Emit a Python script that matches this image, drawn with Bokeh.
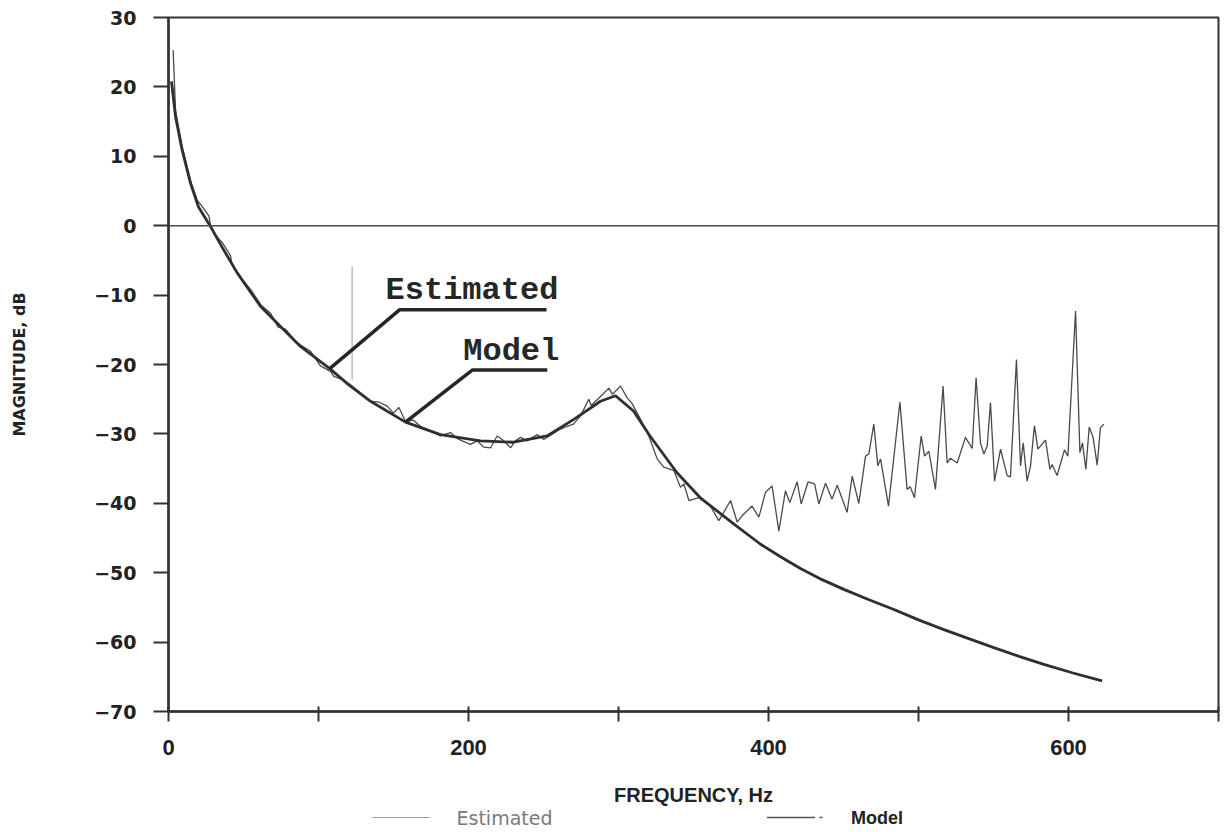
from bokeh.plotting import figure
from bokeh.models import Range1d, FixedTicker, Span
from bokeh.layouts import column
from bokeh.core.properties import value
from bokeh.embed import file_html
from bokeh.resources import INLINE

# ---------------- data ----------------
model_f = [2, 4.7, 9, 14.7, 20, 28, 36, 45.8, 61.3, 75, 88, 107.5, 120, 134.7, 158,
           181.3, 208, 230, 252.4, 270.2, 288, 298, 310, 321, 339, 355, 377, 394.7,
           408, 421.3, 435.7, 450.2, 467, 483.6, 500, 516.9, 533.5, 550.2, 567,
           583.6, 603, 622.4]
model_db = [20.8, 15.7, 11.0, 6.1, 2.7, -0.1, -3.2, -6.8, -11.6, -14.6, -17.4, -20.6,
            -22.9, -25.3, -28.3, -30.1, -31.0, -31.2, -30.3, -27.9, -25.3, -24.5,
            -26.7, -30.3, -35.6, -39.3, -43.0, -45.9, -47.7, -49.4, -51.0, -52.4,
            -53.9, -55.3, -56.8, -58.2, -59.5, -60.8, -62.05, -63.2, -64.45, -65.6]

est_f = [3.1, 4.7, 9, 14.7, 19.1, 23, 26.9, 28, 30.2, 35.8, 41.3, 42.4, 48, 55, 62,
         68, 73, 78, 84, 88, 94.7, 96.9, 101.3, 108, 110.2, 116, 121.3, 128, 134.7,
         140, 145.8, 150, 153.6, 158, 163, 168, 175, 181.3, 188, 192, 195.8, 201.3,
         205.8, 210, 214.7, 219.1, 223.6, 228, 231.3, 234.7, 239.1, 245.8, 250.2,
         256, 261.3, 265.8, 270, 274.7, 280.2, 281.8, 288, 293.6, 296, 301.3, 305.8,
         309, 314.7, 320.2, 325.8, 330.2, 337, 341.3, 343.6, 346.9, 353.6, 361.3,
         366.9, 370.2, 374.7, 379.1, 382.4, 389, 393.6, 398, 402.4, 406.9, 411.3,
         414.2, 419.1, 421.8, 426.4, 430.7, 433.6, 438, 442.4, 445.8, 452.4, 455.8,
         460.2, 464.7, 466.9, 470.2, 472.9, 474.7, 480, 487.6, 492.4, 494.5, 497.3,
         501.8, 504, 506.9, 511.3, 516.4, 519.1, 521.3, 525.8, 531.3, 535.8, 538.4,
         541.3, 543.6, 545.8, 548, 550.7, 554.7, 559.1, 561.3, 565.3, 568, 569.8,
         572.4, 574.7, 577.3, 579.6, 584.7, 587.6, 589.1, 592.4, 597.3, 599.6, 604.7,
         607.6, 609.3, 611.6, 613.8, 616.4, 619.1, 621.3, 623.6]
est_db = [25.3, 16.6, 11.5, 6.5, 3.7, 2.6, 1.4, 0.1, -1.1, -2.4, -4.3, -5.6, -7.4,
          -9.3, -11.5, -12.6, -14.6, -14.9, -16.5, -17.2, -18.1, -18.8, -20.2, -21.0,
          -21.7, -22.2, -22.9, -24.1, -25.3, -25.4, -26.0, -27.0, -26.2, -28.2, -28.0,
          -28.9, -29.6, -30.3, -29.8, -30.6, -31.0, -31.5, -31.0, -31.9, -32.0, -30.3,
          -31.0, -32.0, -31.0, -30.5, -31.0, -30.1, -30.8, -30.0, -29.3, -28.9, -28.6,
          -27.4, -25.0, -25.9, -24.6, -23.4, -24.3, -23.1, -24.8, -25.6, -27.9, -30.3,
          -33.6, -34.8, -35.3, -37.7, -37.2, -39.6, -39.2, -40.4, -42.5, -41.3, -39.6,
          -42.7, -41.8, -40.4, -42.0, -38.4, -37.5, -44.0, -38.2, -39.9, -36.9, -40.1,
          -36.9, -37.2, -40.1, -37.1, -39.4, -37.4, -41.3, -36.1, -40.0, -33.2, -32.9,
          -28.6, -34.6, -33.6, -40.4, -25.4, -38.0, -37.6, -39.2, -30.3, -33.2, -32.5,
          -38.0, -23.1, -34.2, -33.5, -34.2, -30.5, -32.1, -21.9, -31.3, -32.9, -31.7,
          -25.5, -36.8, -32.2, -36.0, -36.2, -19.3, -34.6, -31.3, -36.8, -34.6, -28.8,
          -32.2, -30.9, -35.1, -34.4, -36.0, -32.3, -33.2, -12.3, -32.7, -31.3, -35.1,
          -29.0, -30.5, -34.5, -29.1, -28.6]

x_ticks = [0, 100, 200, 300, 400, 500, 600, 700]
x_tick_labels = ["0", "", "200", "", "400", "", "600", ""]
y_ticks = [-70, -60, -50, -40, -30, -20, -10, 0, 10, 20, 30]
y_tick_labels = ["\u221270", "\u221260", "\u221250", "\u221240", "\u221230", "\u221220",
                 "\u221210", "0", "10", "20", "30"]

# callout annotations
est_leader_x = [107.5, 154.2, 252.0]
est_leader_y = [-20.6, -12.1, -12.1]
model_leader_x = [158.0, 202.5, 252.5]
model_leader_y = [-28.3, -20.8, -20.8]
callout_text = ["Estimated", "Model"]
callout_x = [144.7, 196.5]
callout_y = [-9.4, -18.1]
# stray vertical pen mark in the original
mark_x = [122.4, 122.4]
mark_y = [-5.9, -22.2]

LINE = "#2f2f2f"

p = figure(width=1226, height=808, x_range=Range1d(0, 700), y_range=Range1d(-70, 30),
           output_backend="svg", toolbar_location=None,
           min_border_left=168, min_border_right=8, min_border_top=17, min_border_bottom=95)
p.grid.visible = False
p.background_fill_color = "white"
p.border_fill_color = "white"
p.outline_line_color = "#333333"
p.outline_line_width = 2

# axes
p.xaxis.ticker = FixedTicker(ticks=x_ticks)
p.xaxis.major_label_overrides = {t: l for t, l in zip(x_ticks, x_tick_labels)}
p.xaxis.minor_tick_line_color = None
p.xaxis.major_tick_in = 5
p.xaxis.major_tick_out = 10
p.xaxis.major_label_standoff = 18
p.xaxis.major_label_text_font = "Liberation Sans"
p.xaxis.major_label_text_font_style = "bold"
p.xaxis.major_label_text_font_size = "22px"
p.xaxis.major_label_text_color = "#222222"
p.xaxis.axis_label = "FREQUENCY, Hz"
p.xaxis.axis_label_text_font = "Liberation Sans"
p.xaxis.axis_label_text_font_style = "bold"
p.xaxis.axis_label_text_font_size = "20px"
p.xaxis.axis_label_text_color = "#222222"
p.xaxis.axis_label_standoff = 26

p.yaxis.ticker = FixedTicker(ticks=y_ticks)
p.yaxis.major_label_overrides = {t: l for t, l in zip(y_ticks, y_tick_labels)}
p.yaxis.minor_tick_line_color = None
p.yaxis.major_tick_in = 0
p.yaxis.major_tick_out = 15
p.yaxis.major_label_standoff = 17
p.yaxis.major_label_text_font = "DejaVu Sans"
p.yaxis.major_label_text_font_style = "bold"
p.yaxis.major_label_text_font_size = "19px"
p.yaxis.major_label_text_color = "#222222"
p.yaxis.axis_label = "MAGNITUDE, dB"
p.yaxis.axis_label_text_font = "DejaVu Sans"
p.yaxis.axis_label_text_font_style = "bold"
p.yaxis.axis_label_text_font_size = "16px"
p.yaxis.axis_label_text_color = "#222222"
p.yaxis.axis_label_standoff = 62

for ax in (p.xaxis[0], p.yaxis[0]):
    ax.axis_line_color = "#333333"
    ax.axis_line_width = 2.5
    ax.major_tick_line_color = "#333333"
    ax.major_tick_line_width = 2

p.add_layout(Span(location=0, dimension="width", line_color="#4a4a4a", line_width=1.5))

# curves
p.line(est_f, est_db, line_color="#4a4a4a", line_width=1.3)
p.line(model_f, model_db, line_color=LINE, line_width=2.8)
p.line(mark_x, mark_y, line_color="#9a9a9a", line_width=1)

# callouts
p.line(est_leader_x, est_leader_y, line_color="#262626", line_width=3.5)
p.line(model_leader_x, model_leader_y, line_color="#262626", line_width=3.5)
p.text(callout_x, callout_y, text=callout_text, text_font=value("Liberation Mono"),
       text_font_style="bold", text_font_size="32px", text_color="#262626",
       text_align="left", text_baseline="middle")

# legend strip below the plot
lg = figure(width=1226, height=24, x_range=Range1d(0, 700), y_range=Range1d(0, 24),
            output_backend="svg", toolbar_location=None,
            min_border_left=168, min_border_right=8, min_border_top=0, min_border_bottom=0)
lg.axis.visible = False
lg.grid.visible = False
lg.outline_line_color = None
lg.background_fill_color = "white"
lg.border_fill_color = "white"

legend_labels = ["Estimated", "Model"]
leg_est_line_x = [136, 174]
leg_model_line_x = [399, 431]
leg_model_dot_x = [434, 436]
leg_y = [15, 15]

lg.line(leg_est_line_x, leg_y, line_color="#9a9a9a", line_width=1.2)
lg.text([192], [15], text=[legend_labels[0]], text_font=value("DejaVu Sans"),
        text_font_size="19px", text_color="#7a7a7a", text_align="left",
        text_baseline="middle")
lg.line(leg_model_line_x, leg_y, line_color="#555555", line_width=1.6)
lg.line(leg_model_dot_x, leg_y, line_color="#555555", line_width=1.6)
lg.text([455], [15], text=[legend_labels[1]], text_font=value("Liberation Sans"),
        text_font_style="bold", text_font_size="18px", text_color="#222222",
        text_align="left", text_baseline="middle")

layout = column(p, lg, spacing=0)
open("out.html", "w").write(file_html(layout, INLINE))
